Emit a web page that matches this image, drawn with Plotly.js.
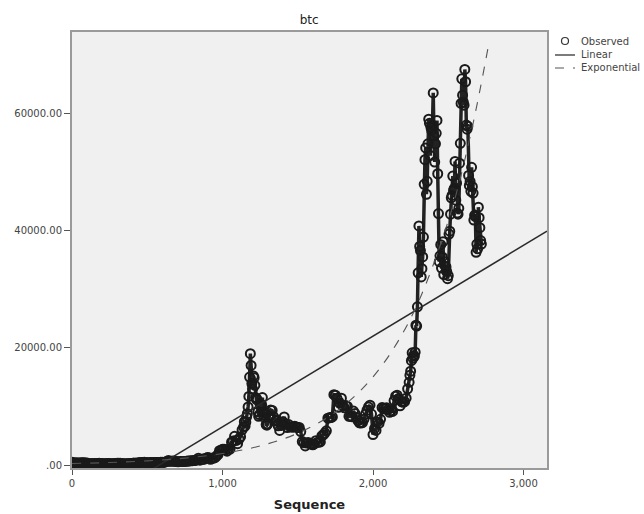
<!DOCTYPE html>
<html>
<head>
<meta charset="utf-8">
<script src="https://cdn.plot.ly/plotly-3.0.1.min.js"></script>
<style>html,body{margin:0;padding:0;background:#fff;}#chart{width:644px;height:514px;}</style>
</head>
<body>
<div id="chart"></div>
<script>
const startA = 0, stepA = 10;
const priceA = [457,404,330,383,354,339,387,367,375,327,320,275,178,253,227,258,238,273,290,247,
  260,220,227,235,237,240,225,233,243,260,292,288,282,265,228,228,231,231,237,246,
  276,325,310,323,362,416,441,430,448,420,378,373,421,437,415,410,415,420,436,455,
  460,438,527,581,756,647,640,673,655,590,573,570,610,607,606,612,640,678,703,711,
  740,758,780,890,1154,818,918,1010,1000,1170,1270,1250,966,1140,1180,1250,1530,1780,2450,2520,
  2680,2700,2580,2350,2750,2700,3880,4080,4890,4160,3630,4400,4830,6010,6470];
const startB = 1145, stepB = 5;
const priceB = [7400,6620,7300,8200,8750,9900,11700,15000,19000,17000,13900,12950,15200,14900,13600,11500,
  11200,11200,9100,8300,8600,10400,10000,10300,11500,8900,8200,8900,8500,6900,6800,7000];
const startC = 1310, stepC = 10;
const priceC = [8300,9400,9300,8200,7500,7700,6700,5900,6750,7380,8200,6950,6400,6900,6500,6500,6450,6600,6480,6400,
  6400,5700,4000,3800,3250,3750,3850,3650,3580,3450,3600,4140,3860,3920,3930,4960,5160,5460,5830,7990,
  8050,8100,8200,12000,11900,11400,9850,10500,11400,10100,9750,10150,9990,8300,8300,8250,9200,8800,8100,7570,
  7200,7150,7250,7800,8700,9350,9900,10200,8700,5200,6200,5900,7300,7100,7800,9800,9700,9550,9750,9450,
  9000,9250,9150,11000,11750,11900,11300,10100,10800,10700,10800,11400,13000,14100];
const startD = 2245, stepD = 5;
const priceD = [15300,16000,17800,19150,18200,18700,18550,19250,23850,23700,27000,32800,40800,37300,36600,32100,
  33500,35500,38900,47900,52100,54100,46200,48400,54800,59000,58300,52800,57600,57100,58000,63500,
  56200,51700,54800,56600,58800,49700,42900,34700,35700,37600,33600,35500,38100,32500,34700,33900,
  33800,33000,31800,32300,39400,39900,42800,45600,46000,49300,46900,47200,51800,45200,48100,43000,
  42800,43800,51500,54900,61700,65900,63100,61900,61400,67500,65400,58000,57300,57800,49400,47700,
  48400,46700,50800,47500,46400,41800,42600,42400,36300,37700,36900,44000,42200,40500,38300,37700];

// Fitted lines
const linearSeq = [0, 3156];
const linearVal = [-9000, 39900];
const expSeq = [0, 250, 500, 750, 1000, 1250, 1500, 1750, 2000, 2250, 2500, 2650, 2770];
const expVal = [254, 423, 704, 1173, 1953, 3253, 5418, 9022, 15024, 25020, 41660, 56560, 72000];

const xTickVals = [0, 1000, 2000, 3000];
const xTickText = ['0', '1,000', '2,000', '3,000'];
const yTickVals = [0, 20000, 40000, 60000];
const yTickText = ['.00', '20000.00', '40000.00', '60000.00'];
const legendNames = ['Observed', 'Linear', 'Exponential'];

const seq = [], obs = [];
[[startA, stepA, priceA], [startB, stepB, priceB], [startC, stepC, priceC], [startD, stepD, priceD]].forEach(([s, st, arr]) => {
  arr.forEach((v, i) => { seq.push(s + st * i); obs.push(v); });
});

const font = 'DejaVu Sans, Liberation Sans, Arial, sans-serif';
const ink = '#1a1a1a';

const traces = [
  {x: seq, y: obs, type: 'scatter', mode: 'lines+markers', name: legendNames[0],
   line: {color: '#222', width: 3.5},
   marker: {symbol: 'circle-open', size: 9, color: ink, line: {width: 2, color: ink}}},
  {x: linearSeq, y: linearVal, type: 'scatter', mode: 'lines', name: legendNames[1],
   line: {color: '#2a2a2a', width: 1.5}},
  {x: expSeq, y: expVal, type: 'scatter', mode: 'lines', name: legendNames[2],
   line: {color: '#555', width: 1.1, dash: 'dash', shape: 'spline'}}
];

// legend drawn in paper space (plot area spans 475 x 436 px)
const pw = 475, ph = 436;
const px = v => (v - 72) / pw;
const py = v => (468 - v) / ph;
const legY = [41, 55, 68];

const shapes = [
  {type: 'circle', xref: 'paper', yref: 'paper', xsizemode: 'pixel', ysizemode: 'pixel',
   xanchor: px(565), yanchor: py(legY[0]), x0: -3.5, x1: 3.5, y0: -3.5, y1: 3.5,
   line: {color: '#333', width: 1.2}},
  {type: 'line', xref: 'paper', yref: 'paper', x0: px(555), x1: px(575), y0: py(legY[1]), y1: py(legY[1]),
   line: {color: '#333', width: 1.3}},
  {type: 'line', xref: 'paper', yref: 'paper', x0: px(555), x1: px(575), y0: py(legY[2]), y1: py(legY[2]),
   line: {color: '#555', width: 1.1, dash: 'dash'}}
];
const annotations = legendNames.map((t, i) => ({
  text: t, xref: 'paper', yref: 'paper', x: px(579), y: py(legY[i]), xanchor: 'left', yanchor: 'middle',
  showarrow: false, font: {family: font, size: 10, color: '#444'}
}));

const layout = {
  width: 644, height: 514,
  margin: {l: 72, r: 97, t: 32, b: 46},
  paper_bgcolor: '#ffffff',
  plot_bgcolor: '#f0f0f0',
  showlegend: false,
  shapes: shapes,
  annotations: annotations,
  title: {text: 'btc', x: 0.48, xanchor: 'center', y: 0.962, yanchor: 'middle',
          font: {family: font, size: 12, color: '#222'}},
  xaxis: {
    range: [0, 3156], tickvals: xTickVals, ticktext: xTickText,
    showgrid: false, zeroline: false,
    showline: true, mirror: true, linecolor: '#9a9a9a', linewidth: 2,
    ticks: 'outside', ticklen: 5, tickcolor: '#555', tickwidth: 1,
    tickfont: {family: font, size: 10, color: '#444'},
    title: {text: '<b>Sequence</b>', standoff: 12, font: {family: font, size: 13, color: '#222'}}
  },
  yaxis: {
    range: [-512, 73890], tickvals: yTickVals, ticktext: yTickText,
    showgrid: false, zeroline: false,
    showline: true, mirror: true, linecolor: '#9a9a9a', linewidth: 2,
    ticks: 'outside', ticklen: 6, tickcolor: '#555', tickwidth: 1,
    tickfont: {family: font, size: 10, color: '#444'}
  }
};

Plotly.newPlot('chart', traces, layout, {staticPlot: true, displayModeBar: false});
</script>
</body>
</html>
